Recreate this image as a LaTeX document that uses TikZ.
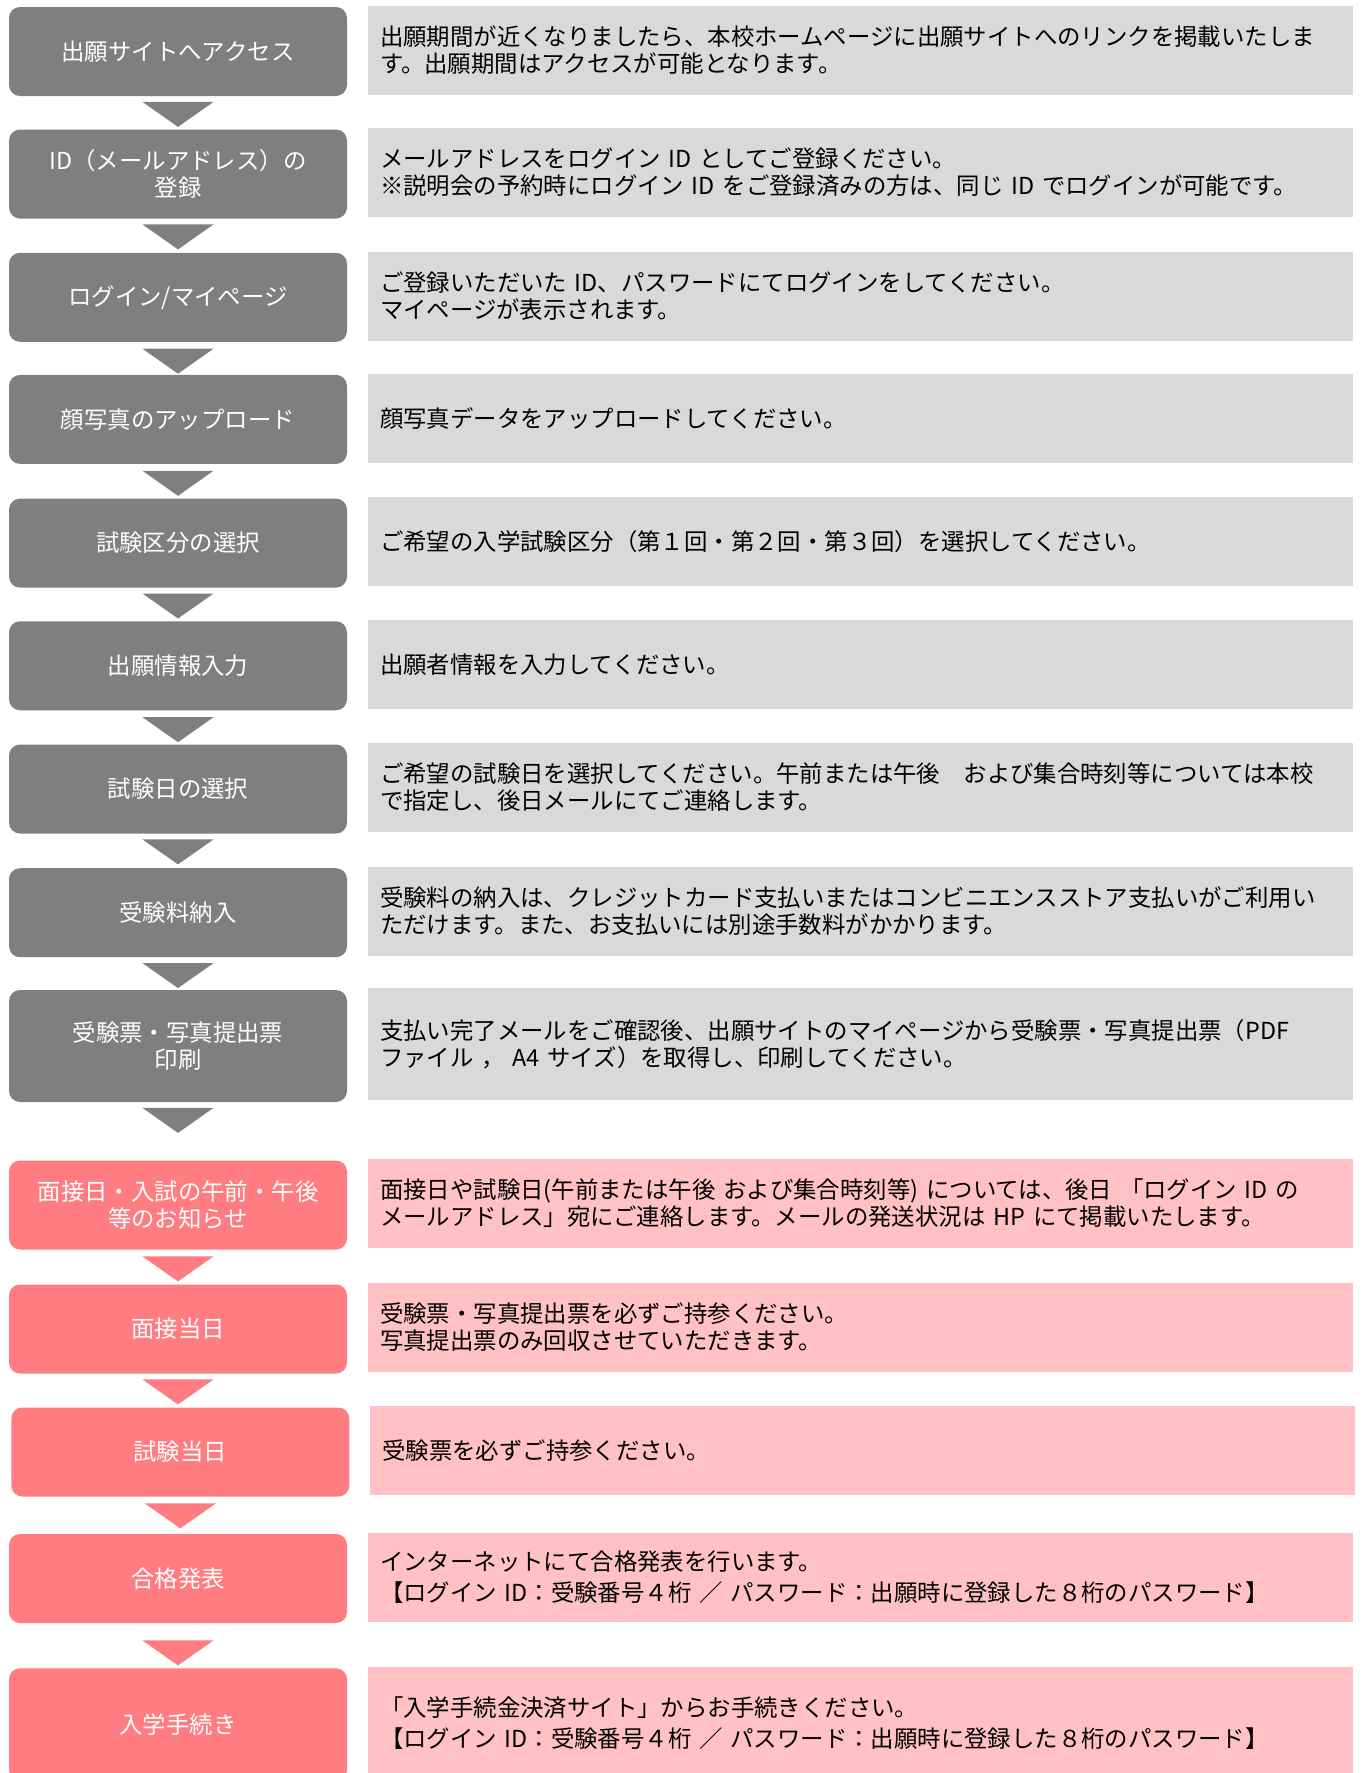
\documentclass[tikz,border=0pt]{standalone}
\usepackage{fontspec}
\setmainfont{Noto Sans CJK JP}
\usetikzlibrary{calc}
\definecolor{stepgray}{RGB}{127,127,127}
\definecolor{notegray}{RGB}{217,217,217}
\definecolor{steppink}{RGB}{255,124,128}
\definecolor{notepink}{RGB}{255,193,196}

\tikzset{
  stepbox/.style={rectangle, rounded corners=5.5pt, minimum width=169pt, minimum height=44.5pt,
    inner sep=0pt, align=center, text=white, font=\fontsize{11.7}{13.5}\selectfont},
  notebox/.style={rectangle, minimum height=44.5pt, text width=480.5pt, inner xsep=6pt,
    inner ysep=0pt, align=left, text=black, font=\fontsize{11.7}{13.5}\selectfont},
}

\begin{document}
\begin{tikzpicture}[x=0.5pt, y=-0.5pt]
				\useasboundingbox (0,0) rectangle (1362,1773);
				\clip (0,0) rectangle (1362,1773);
				
				% Draw steps of the web application (gray part)
				\node[stepbox, fill=stepgray] (s1) at (178,51.5) {出願サイトへアクセス};
				\node[stepbox, fill=stepgray] (s2) at (178,174) {ID（メールアドレス）の\\登録};
				\node[stepbox, fill=stepgray] (s3) at (178,297.3) {ログイン/マイページ};
				\node[stepbox, fill=stepgray] (s4) at (178,419.4) {顔写真のアップロード};
				\node[stepbox, fill=stepgray] (s5) at (178,543.1) {試験区分の選択};
				\node[stepbox, fill=stepgray] (s6) at (178,665.8) {出願情報入力};
				\node[stepbox, fill=stepgray] (s7) at (178,789) {試験日の選択};
				\node[stepbox, fill=stepgray] (s8) at (178,912.7) {受験料納入};
				\node[stepbox, fill=stepgray, minimum height=56pt] (s9) at (178,1046) {受験票・写真提出票\\印刷};
				
				% Draw steps after the application (pink part)
				\node[stepbox, fill=steppink] (s10) at (178,1205) {面接日・入試の午前・午後\\等のお知らせ};
				\node[stepbox, fill=steppink] (s11) at (178,1329) {面接当日};
				\node[stepbox, fill=steppink] (s12) at (180.3,1452) {試験当日};
				\node[stepbox, fill=steppink] (s13) at (178,1578.5) {合格発表};
				\node[stepbox, fill=steppink, minimum height=56pt] (s14) at (178,1724.3) {入学手続き};
				
				% Draw notes beside the steps
				\node[notebox, fill=notegray] (n1) at (860.5,50) {出願期間が近くなりましたら、本校ホームページに出願サイトへのリンクを掲載いたしま\\す。出願期間はアクセスが可能となります。};
				\node[notebox, fill=notegray] (n2) at (860.5,172.5) {メールアドレスをログイン ID としてご登録ください。\\※説明会の予約時にログイン ID をご登録済みの方は、同じ ID でログインが可能です。};
				\node[notebox, fill=notegray] (n3) at (860.5,296) {ご登録いただいた ID、パスワードにてログインをしてください。\\マイページが表示されます。};
				\node[notebox, fill=notegray] (n4) at (860.5,418) {顔写真データをアップロードしてください。};
				\node[notebox, fill=notegray] (n5) at (860.5,541.5) {ご希望の入学試験区分（第１回・第２回・第３回）を選択してください。};
				\node[notebox, fill=notegray] (n6) at (860.5,664.5) {出願者情報を入力してください。};
				\node[notebox, fill=notegray] (n7) at (860.5,787.5) {ご希望の試験日を選択してください。午前または午後　および集合時刻等については本校\\で指定し、後日メールにてご連絡します。};
				\node[notebox, fill=notegray] (n8) at (860.5,911) {受験料の納入は、クレジットカード支払いまたはコンビニエンスストア支払いがご利用い\\ただけます。また、お支払いには別途手数料がかかります。};
				\node[notebox, fill=notegray, minimum height=56pt] (n9) at (860.5,1044) {支払い完了メールをご確認後、出願サイトのマイページから受験票・写真提出票（PDF\\ファイル ， A4 サイズ）を取得し、印刷してください。};
				\node[notebox, fill=notepink] (n10) at (860.5,1203.5) {面接日や試験日(午前または午後 および集合時刻等) については、後日 「ログイン ID の\\メールアドレス」宛にご連絡します。メールの発送状況は HP にて掲載いたします。};
				\node[notebox, fill=notepink] (n11) at (860.5,1327.5) {受験票・写真提出票を必ずご持参ください。\\写真提出票のみ回収させていただきます。};
				\node[notebox, fill=notepink] (n12) at (862.8,1450.5) {受験票を必ずご持参ください。};
				\node[notebox, fill=notepink] (n13) at (860.5,1577) {インターネットにて合格発表を行います。\\[2pt]【ログイン ID：受験番号４桁 ／ パスワード：出願時に登録した８桁のパスワード】};
				\node[notebox, fill=notepink, minimum height=56pt] (n14) at (860.5,1723) {「入学手続金決済サイト」からお手続きください。\\[2pt]【ログイン ID：受験番号４桁 ／ パスワード：出願時に登録した８桁のパスワード】};
				
				% Arrows between the steps
				\foreach \a/\t/\c in {s1/5.5/stepgray, s2/5.5/stepgray, s3/6.5/stepgray, s4/6.5/stepgray,
				  s5/5.5/stepgray, s6/6.5/stepgray, s7/5.5/stepgray, s8/5.5/stepgray, s9/5.5/stepgray,
				  s10/6.5/steppink, s11/5.5/steppink, s12/6.5/steppink, s13/17/steppink}
				  \fill[\c] ($(\a.south)+(-35.5,\t)$) -- ($(\a.south)+(35.5,\t)$) -- ($(\a.south)+(0,\t+25)$) -- cycle;
			\end{tikzpicture}
\end{document}
